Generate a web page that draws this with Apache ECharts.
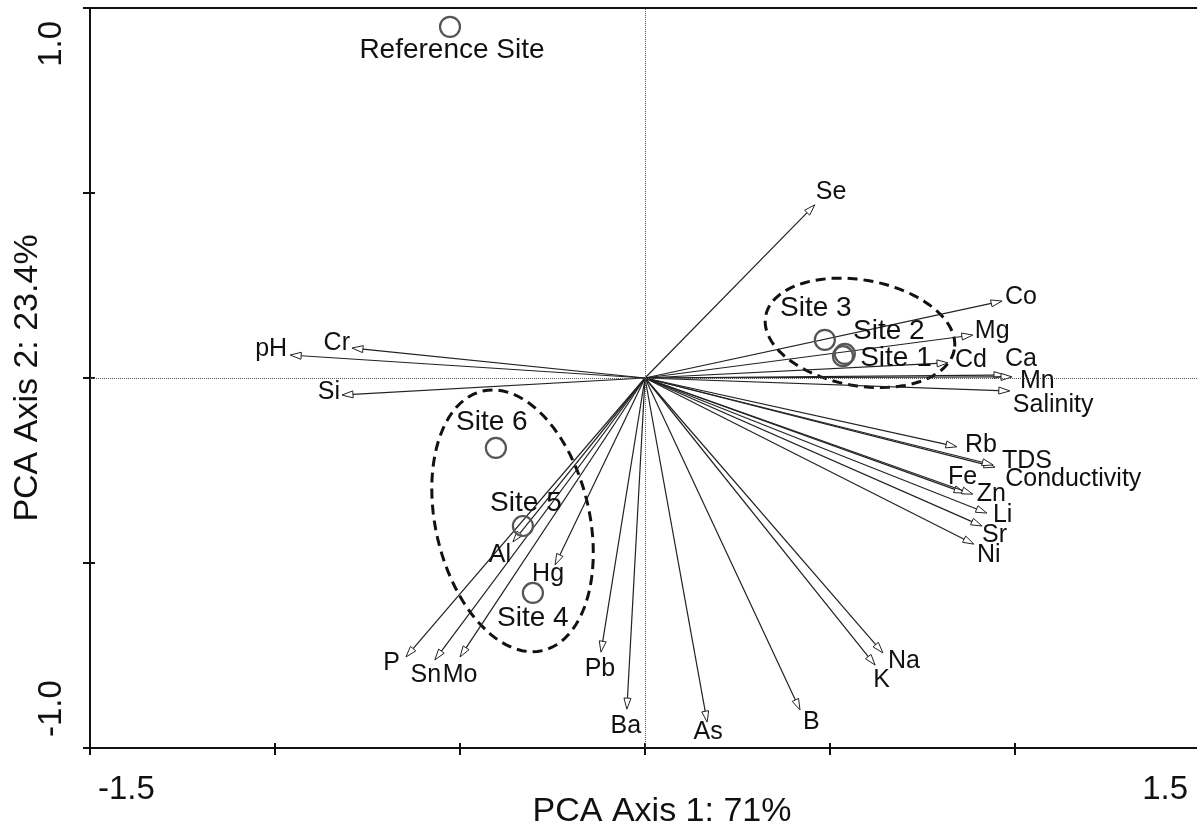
<!DOCTYPE html>
<html>
<head>
<meta charset="utf-8">
<script src="https://cdn.jsdelivr.net/npm/echarts@6/dist/echarts.min.js"></script>
<style>
html,body{margin:0;padding:0;background:#fff;}
#chart{width:1197px;height:827px;}
</style>
</head>
<body>
<div id="chart"></div>
<script>
// ---- data ----
const varNames = ['Se','Co','Mg','Cd','Ca','Mn','Salinity','Rb','TDS','Conductivity','Fe','Zn','Li','Sr','Ni','Na','K','B','As','Ba','Pb','P','Sn','Mo','Al','Hg','pH','Cr','Si'];
const varPC1 = [0.459,0.965,0.886,0.819,0.973,0.992,0.986,0.843,0.946,0.941,0.865,0.886,0.924,0.911,0.889,0.643,0.622,0.419,0.168,-0.049,-0.119,-0.646,-0.568,-0.500,-0.357,-0.243,-0.959,-0.792,-0.819];
const varPC2 = [0.468,0.208,0.116,0.041,0.008,0.003,-0.035,-0.186,-0.241,-0.235,-0.311,-0.314,-0.365,-0.400,-0.449,-0.743,-0.776,-0.897,-0.930,-0.895,-0.741,-0.754,-0.762,-0.754,-0.443,-0.505,0.062,0.081,-0.046];

const siteNames = ['Reference Site','Site 1','Site 2','Site 3','Site 4','Site 5','Site 6'];
const sitePC1 = [-0.527,0.535,0.540,0.486,-0.303,-0.330,-0.403];
const sitePC2 = [0.949,0.059,0.065,0.103,-0.581,-0.400,-0.189];

// group ellipses: centre, semi-axes (data units), rotation (deg, screen)
const ellipseCX = [0.581,-0.358];
const ellipseCY = [0.122,-0.386];
const ellipseA  = [0.259,0.360];
const ellipseB  = [0.143,0.208];
const ellipseRot = [10,77];

const xTickValues = [-1.5, 1.5];
const xTickLabels = ['-1.5','1.5'];
const yTickValues = [-1.0, 1.0];
const yTickLabels = ['-1.0','1.0'];
const xAxisTitle = 'PCA Axis 1: 71%';
const yAxisTitle = 'PCA Axis 2: 23.4%';

// ---- layout (label placement, px) ----
const varLabelLayout = {
  Se:['left',1,-13], Co:['left',3,-4], Mg:['left',2,-4], Cd:['left',7,-3], Ca:['left',0,-16],
  Mn:['left',8,4], Salinity:['left',3,14], Rb:['left',8,-2], TDS:['left',7,-6],
  Conductivity:['left',12,14], Fe:['left',-17,-16], Zn:['left',4,0], Li:['left',6,2],
  Sr:['left',0,9], Ni:['left',3,11], Na:['left',5,8], K:['left',-2,15], B:['left',3,12],
  As:['center',1,10], Ba:['center',-1,17], Pb:['center',-1,17], P:['right',-6,6],
  Sn:['center',-9,15], Mo:['center',0,18], Al:['center',-13,13], Hg:['center',-7,9],
  pH:['right',-3,-6], Cr:['right',-2,-5], Si:['right',-2,-3]
};
const siteLabelOffset = {
  'Reference Site':[2,23], 'Site 1':[53,2], 'Site 2':[44,-23], 'Site 3':[-9,-32],
  'Site 4':[0,25], 'Site 5':[3,-23], 'Site 6':[-4,-26]
};

const FONT = '"Liberation Sans", Arial, Helvetica, sans-serif';
const INK = '#111';

function fmt(values, labels){
  return function(v){
    const i = values.findIndex(t => Math.abs(t - v) < 1e-9);
    return i >= 0 ? labels[i] : '';
  };
}

const chart = echarts.init(document.getElementById('chart'), null, {renderer:'canvas'});

const gridBox = {left:90, top:8, width:1110, height:740, outerBoundsMode:'none', containLabel:false};

const option = {
  backgroundColor:'#fff',
  animation:false,
  grid:[
    Object.assign({show:true, borderColor:INK, borderWidth:2, backgroundColor:'transparent'}, gridBox),
    Object.assign({show:false}, gridBox)
  ],
  xAxis:[
    {
      type:'value', gridIndex:0, min:-1.5, max:1.5, interval:0.5,
      name:xAxisTitle, nameLocation:'middle', nameGap:47, nameMoveOverlap:false,
      nameTextStyle:{fontSize:34, fontFamily:FONT, color:INK, padding:[0,0,0,34]},
      axisLine:{show:true, onZero:false, lineStyle:{color:INK, width:2}},
      axisTick:{show:true, inside:false, length:7, lineStyle:{color:INK, width:2}},
      axisLabel:{show:true, fontSize:33, fontFamily:FONT, color:INK, margin:25,
        formatter:fmt(xTickValues, xTickLabels), showMinLabel:true, showMaxLabel:true,
        alignMinLabel:'left', alignMaxLabel:'right', padding:[0,12,0,8]},
      splitLine:{show:false}
    },
    {
      type:'value', gridIndex:1, min:-1.5, max:1.5, interval:0.5,
      axisLine:{show:false, onZero:false},
      axisTick:{show:true, inside:true, length:5, lineStyle:{color:INK, width:2}},
      axisLabel:{show:false}, splitLine:{show:false}
    }
  ],
  yAxis:[
    {
      type:'value', gridIndex:0, min:-1, max:1, interval:0.5,
      name:yAxisTitle, nameLocation:'middle', nameGap:45, nameRotate:90, nameMoveOverlap:false,
      nameTextStyle:{fontSize:34, fontFamily:FONT, color:INK},
      axisLine:{show:true, onZero:false, lineStyle:{color:INK, width:2}},
      axisTick:{show:true, inside:false, length:7, lineStyle:{color:INK, width:2}},
      axisLabel:{show:true, rotate:90, fontSize:33, fontFamily:FONT, color:INK, margin:22,
        formatter:fmt(yTickValues, yTickLabels), showMinLabel:true, showMaxLabel:true,
        alignMinLabel:'left', alignMaxLabel:'right', padding:[0,13,0,11]},
      splitLine:{show:false}
    },
    {
      type:'value', gridIndex:1, min:-1, max:1, interval:0.5,
      axisLine:{show:false, onZero:false},
      axisTick:{show:true, inside:true, length:5, lineStyle:{color:INK, width:2}},
      axisLabel:{show:false}, splitLine:{show:false}
    }
  ],
  series:[
    {
      // group ellipses
      type:'custom', xAxisIndex:0, yAxisIndex:0, z:2, silent:true,
      data: ellipseCX.map((c,i) => [c, ellipseCY[i], ellipseA[i], ellipseB[i], ellipseRot[i]]),
      renderItem:function(params, api){
        const c = api.coord([api.value(0), api.value(1)]);
        const s = api.size([1,1]);
        const a = api.value(2), b = api.value(3), phi = api.value(4) * Math.PI / 180;
        const pts = [];
        const N = 96;
        for (let k = 0; k < N; k++){
          const t = 2 * Math.PI * k / N;
          const ex = a * Math.cos(t), ey = b * Math.sin(t);
          const X = ex * Math.cos(phi) - ey * Math.sin(phi);
          const Y = ex * Math.sin(phi) + ey * Math.cos(phi);
          pts.push([c[0] + X * s[0], c[1] + Y * s[1]]);
        }
        return {type:'polygon', shape:{points:pts},
          style:{fill:'none', stroke:INK, lineWidth:3, lineDash:[10,6]}};
      },
      markLine:{
        silent:true, symbol:['none','none'], label:{show:false},
        lineStyle:{type:'dotted', color:'#555', width:1},
        data:[{xAxis:0},{yAxis:0}]
      }
    },
    {
      // variable vectors
      type:'custom', xAxisIndex:0, yAxisIndex:0, z:3, silent:true,
      data: varNames.map((n,i) => [varPC1[i], varPC2[i], i]),
      renderItem:function(params, api){
        const i = api.value(2);
        const o = api.coord([0,0]);
        const t = api.coord([api.value(0), api.value(1)]);
        const dx = t[0]-o[0], dy = t[1]-o[1];
        const L = Math.hypot(dx, dy);
        const ux = dx/L, uy = dy/L;
        const AH = 11, HW = 3.5;
        const bx = t[0]-ux*AH, by = t[1]-uy*AH;
        const px = -uy, py = ux;
        const lay = varLabelLayout[varNames[i]];
        return {type:'group', children:[
          {type:'line', shape:{x1:o[0], y1:o[1], x2:bx, y2:by}, style:{stroke:'#222', lineWidth:1.2}},
          {type:'polygon', shape:{points:[[t[0],t[1]],[bx+px*HW,by+py*HW],[bx-px*HW,by-py*HW]]},
            style:{fill:'#fff', stroke:'#222', lineWidth:1}},
          {type:'text', x:t[0]+lay[1], y:t[1]+lay[2],
            style:{text:varNames[i], fontSize:25, fontFamily:FONT, fill:INK,
              align:lay[0], verticalAlign:'middle'}}
        ]};
      }
    },
    {
      // sites
      type:'custom', xAxisIndex:0, yAxisIndex:0, z:4, silent:true,
      data: siteNames.map((n,i) => [sitePC1[i], sitePC2[i], i]),
      renderItem:function(params, api){
        const i = api.value(2);
        const p = api.coord([api.value(0), api.value(1)]);
        const off = siteLabelOffset[siteNames[i]];
        return {type:'group', children:[
          {type:'circle', shape:{cx:p[0], cy:p[1], r:10},
            style:{fill:'none', stroke:'#555', lineWidth:2.2}},
          {type:'text', x:p[0]+off[0], y:p[1]+off[1],
            style:{text:siteNames[i], fontSize:28, fontFamily:FONT, fill:INK,
              align:'center', verticalAlign:'middle'}}
        ]};
      }
    }
  ]
};
chart.setOption(option);
</script>
</body>
</html>
